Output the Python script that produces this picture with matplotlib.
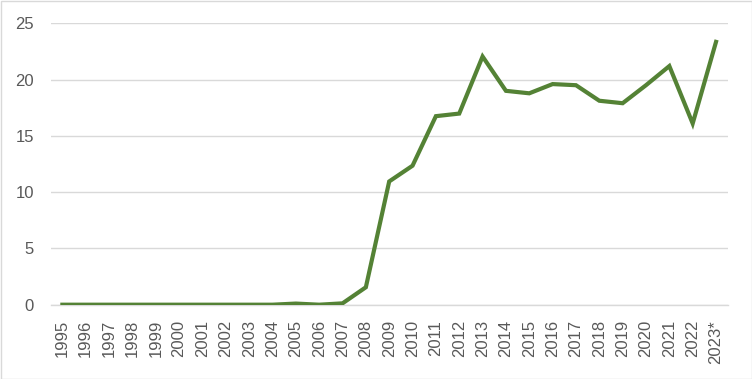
import matplotlib
matplotlib.use("Agg")
import matplotlib.pyplot as plt
from matplotlib.patches import Rectangle

years = [str(y) for y in range(1995, 2023)] + ["2023*"]
values = [0, 0, 0, 0, 0, 0, 0, 0, 0, 0,
          0.1, 0.0, 0.12, 1.55, 10.95, 12.35, 16.75, 16.98, 22.05, 19.0,
          18.78, 19.6, 19.5, 18.12, 17.9, 19.5, 21.2, 16.1, 23.35]
yticks = [0, 5, 10, 15, 20, 25]

plt.rcParams['font.family'] = ['Liberation Sans', 'DejaVu Sans']

fig = plt.figure(figsize=(7.52, 3.79), dpi=100)
ax = fig.add_axes([50.7/752, 1-304.7/379, (727.7-50.7)/752, (304.7-23.3)/379])

x = list(range(len(years)))
ax.plot(x, values, color="#548235", lw=3.0, solid_joinstyle="miter", zorder=3)

ax.set_xlim(-0.5, len(years) - 0.5)
ax.set_ylim(0, 25)
ax.set_yticks(yticks)
ax.set_xticks(x)
ax.set_xticklabels(years, rotation=90)
ax.tick_params(axis="both", length=0, labelsize=12, labelcolor="#595959")
ax.tick_params(axis="y", pad=12)
ax.tick_params(axis="x", pad=11)
ax.grid(axis="y", color="#d9d9d9", lw=1.0)
ax.set_axisbelow(True)
for s in ["top", "right", "left"]:
    ax.spines[s].set_visible(False)
ax.spines["bottom"].set_color("#d9d9d9")
ax.spines["bottom"].set_linewidth(1.0)

fig.patches.append(Rectangle((0.5/752, 0.5/379), 1-1/752, 1-1/379, transform=fig.transFigure,
                             fill=False, edgecolor="#d9d9d9", lw=1.0))

fig.savefig("out.png", dpi=100)
